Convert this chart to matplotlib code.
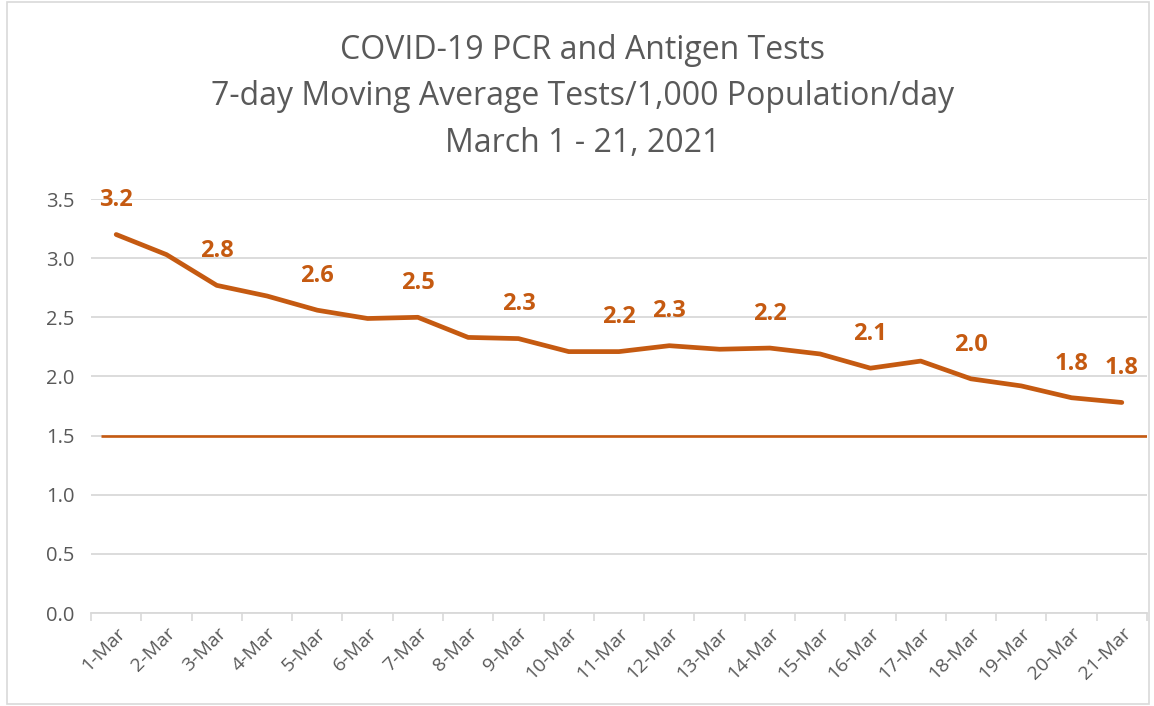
import matplotlib.pyplot as plt
import matplotlib.patches as patches
import numpy as np

# data
days = [f"{d}-Mar" for d in range(1, 22)]
tests = [3.20, 3.03, 2.77, 2.68, 2.56, 2.49, 2.50, 2.33, 2.32, 2.21, 2.21,
         2.26, 2.23, 2.24, 2.19, 2.07, 2.13, 1.98, 1.92, 1.82, 1.78]
# which points carry a data label
labelled = [1, 3, 5, 7, 9, 11, 12, 14, 16, 18, 20, 21]
target = 1.5

orange = '#C55A11'
grey = '#595959'
plt.rcParams['font.family'] = ['Open Sans', 'DejaVu Sans']

fig = plt.figure(figsize=(11.54, 7.06), dpi=100)
ax = fig.add_axes([0.0789, 0.1317, 0.915, 0.5864])

x = np.arange(len(days))
ax.plot(x, tests, color=orange, lw=3.4, solid_capstyle='round', zorder=3)
ax.hlines(target, -0.3, len(days) - 0.5, color=orange, lw=1.9, zorder=3)

for d in labelled:
    i = d - 1
    ax.annotate(f"{tests[i]:.1f}", (x[i], tests[i]), xytext=(0, 16),
                textcoords='offset points', ha='center', va='bottom',
                color=orange, fontsize=17, fontweight='bold')

ax.set_xlim(-0.5, len(days) - 0.5)
ax.set_ylim(0, 3.5)
ax.set_yticks(np.arange(0, 3.51, 0.5))
ax.set_yticklabels([f"{v:.1f}" for v in np.arange(0, 3.51, 0.5)])
ax.set_xticks(x)
ax.set_xticklabels(days, rotation=45, ha='right', rotation_mode='anchor')
ax.set_xticks(np.arange(-0.5, len(days), 1), minor=True)
ax.tick_params(axis='x', which='major', length=0, pad=8, labelsize=14, labelcolor=grey)
ax.tick_params(axis='x', which='minor', length=6, color='#D9D9D9', width=1.2)
ax.tick_params(axis='y', length=0, labelsize=14.5, labelcolor=grey, pad=12)

ax.grid(axis='y', color='#D9D9D9', lw=1.3)
ax.set_axisbelow(True)
for s in ['top', 'right', 'left']:
    ax.spines[s].set_visible(False)
ax.spines['bottom'].set_color('#D9D9D9')
ax.spines['bottom'].set_linewidth(1.3)

fig.text(0.505, 0.929, "COVID-19 PCR and Antigen Tests", ha='center', va='center',
         fontsize=23, color=grey)
fig.text(0.505, 0.863, "7-day Moving Average Tests/1,000 Population/day", ha='center',
         va='center', fontsize=23, color=grey)
fig.text(0.505, 0.797, "March 1 - 21, 2021", ha='center', va='center',
         fontsize=23, color=grey)

fig.patches.append(patches.Rectangle((0.006, 0.003), 0.99, 0.994, transform=fig.transFigure,
                                     fill=False, edgecolor='#D9D9D9', lw=1.2))

fig.savefig('out.png', dpi=100)
